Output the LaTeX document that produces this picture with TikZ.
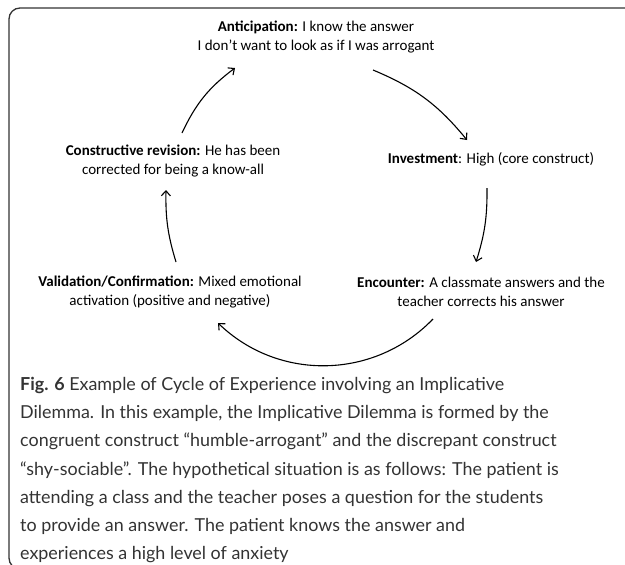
\documentclass[tikz,border=0pt]{standalone}
\usepackage{fontspec}
\setmainfont{Carlito}
\newfontfamily\capfont{Lato}
\usetikzlibrary{arrows.meta}
\definecolor{framegray}{HTML}{333333}
\definecolor{captext}{HTML}{333333}
\tikzset{
  lbl/.style={align=center, font=\fontsize{15}{19}\selectfont, inner sep=0pt, text=black},
  arr/.style={line width=1.1pt, -{Straight Barb[length=5pt,width=9pt,line width=1.1pt]}},
  captionbox/.style={align=left, anchor=north west, inner sep=0pt, text=captext,
              font=\capfont\fontsize{17.9}{28.2}\selectfont}
}
\begin{document}
\begin{tikzpicture}[x=1pt,y=-1pt]
\useasboundingbox (0,0) rectangle (625,565);
% frame (only top and left edges visible)
\draw[framegray, line width=1.3pt, rounded corners=11pt] (640,8) -- (9,8) -- (9,569) -- (40,569);

\node[lbl] (ant) at (316,37) {\textbf{Anticipation:} I know the answer\\I don’t want to look as if I was arrogant};
\node[lbl] (con) at (173,161) {\textbf{Constructive revision:} He has been\\corrected for being a know-all};
\node[lbl] (inv) at (491,159) {\textbf{Investment}: High (core construct)};
\node[lbl] (val) at (170,292) {\textbf{Validation/Confirmation:} Mixed emotional\\activation (positive and negative)};
\node[lbl] (enc) at (481,292) {\textbf{Encounter:} A classmate answers and the\\teacher corrects his answer};

\coordinate (a1s) at (182,133);
\coordinate (a1e) at (235,68);
\coordinate (a2s) at (373,70);
\coordinate (a2e) at (467,140);
\coordinate (a3s) at (487,188);
\coordinate (a3e) at (476,262);
\coordinate (a4s) at (433,319);
\coordinate (a4e) at (218,323);
\coordinate (a5s) at (176,262);
\coordinate (a5e) at (166,190);

\draw[arr] (a1s) to[bend left=14] (a1e);
\draw[arr] (a2s) to[bend left=14] (a2e);
\draw[arr] (a3s) to[bend left=9] (a3e);
\draw[arr] (a4s) to[bend left=45] (a4e);
\draw[arr] (a5s) to[bend left=9] (a5e);

\node[captionbox] (caption) at (20,377) {{\bfseries Fig. 6} Example of Cycle of Experience involving an Implicative\\
Dilemma. In this example, the Implicative Dilemma is formed by the\\
congruent construct “humble-arrogant” and the discrepant construct\\
“shy-sociable”. The hypothetical situation is as follows: The patient is\\
attending a class and the teacher poses a question for the students\\
to provide an answer. The patient knows the answer and\\
experiences a high level of anxiety};
\end{tikzpicture}
\end{document}
